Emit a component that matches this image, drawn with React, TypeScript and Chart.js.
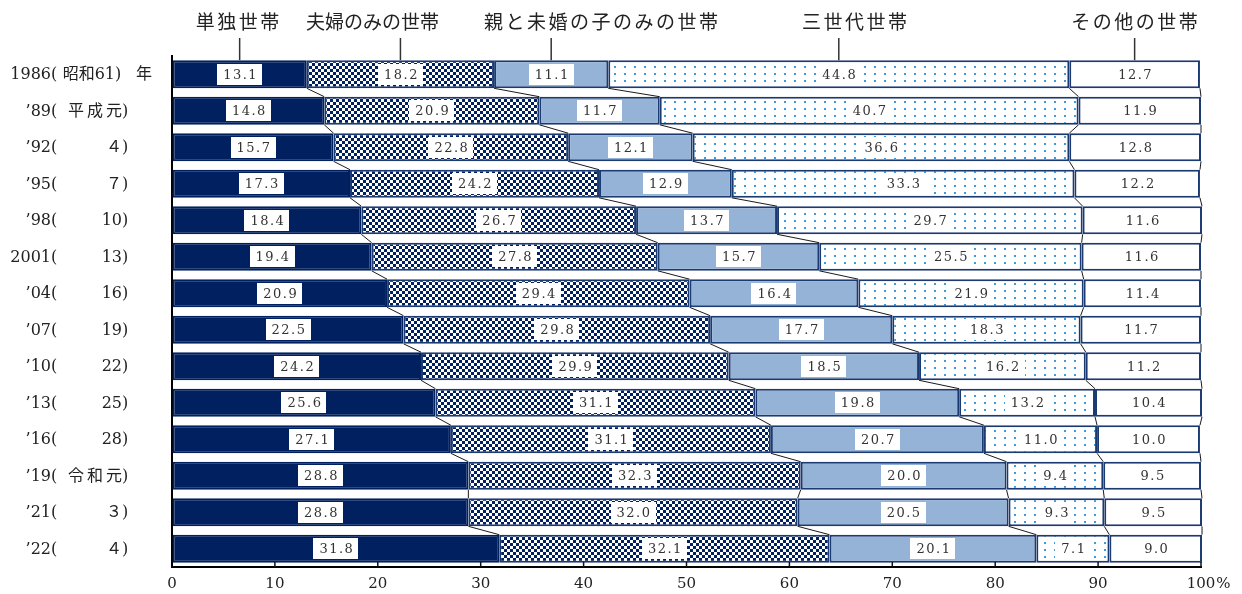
import React, { useEffect, useRef } from 'react';
import { Chart, registerables } from 'chart.js';

Chart.register(...registerables);

// ---- data ----
const yearLabels = ['1986', '’89', '’92', '’95', '’98', '2001', '’04', '’07', '’10', '’13', '’16', '’19', '’21', '’22'];
const eraLabels = ['昭和61', '平成元', '４', '７', '10', '13', '16', '19', '22', '25', '28', '令和元', '３', '４'];
const suffixLabels = ['年', '', '', '', '', '', '', '', '', '', '', '', '', ''];
const categories = yearLabels.map((y, i) => `${y}(${eraLabels[i]})${suffixLabels[i]}`);

const seriesNames = ['単独世帯', '夫婦のみの世帯', '親と未婚の子のみの世帯', '三世代世帯', 'その他の世帯'];
const singleHH = [13.1, 14.8, 15.7, 17.3, 18.4, 19.4, 20.9, 22.5, 24.2, 25.6, 27.1, 28.8, 28.8, 31.8];
const coupleOnly = [18.2, 20.9, 22.8, 24.2, 26.7, 27.8, 29.4, 29.8, 29.9, 31.1, 31.1, 32.3, 32.0, 32.1];
const parentChild = [11.1, 11.7, 12.1, 12.9, 13.7, 15.7, 16.4, 17.7, 18.5, 19.8, 20.7, 20.0, 20.5, 20.1];
const threeGen = [44.8, 40.7, 36.6, 33.3, 29.7, 25.5, 21.9, 18.3, 16.2, 13.2, 11.0, 9.4, 9.3, 7.1];
const otherHH = [12.7, 11.9, 12.8, 12.2, 11.6, 11.6, 11.4, 11.7, 11.2, 10.4, 10.0, 9.5, 9.5, 9.0];
const xTickValues = [0, 10, 20, 30, 40, 50, 60, 70, 80, 90, 100];
const xLastSuffix = '%';

// ---- styles ----
const NAVY = '#002060';
const BORDER = '#1c3a72';
const LIGHT_BLUE = '#95b3d7';
const DOT = '#3d9be0';
const SERIF = "'DejaVu Serif', 'Noto Sans CJK JP'";
const HEADER_TEXT_OFFSETS = [-2, -29, 50, 16, 0];
const HEADER_SPACING = ['2.5px', '0px', '2.5px', '2.5px', '2.5px'];

function makeChecker(): CanvasPattern | string {
  const c = document.createElement('canvas');
  c.width = 6; c.height = 6;
  const g = c.getContext('2d');
  if (!g) return NAVY;
  g.fillStyle = NAVY; g.fillRect(0, 0, 6, 6);
  g.fillStyle = '#ffffff';
  g.fillRect(0, 0, 3, 3);
  g.fillRect(3, 3, 3, 3);
  return g.createPattern(c, 'repeat') || NAVY;
}

function makeDots(): CanvasPattern | string {
  const c = document.createElement('canvas');
  c.width = 10; c.height = 7;
  const g = c.getContext('2d');
  if (!g) return '#fff';
  g.fillStyle = '#ffffff'; g.fillRect(0, 0, 10, 7);
  g.fillStyle = DOT;
  g.fillRect(4, 3, 2, 2);
  return g.createPattern(c, 'repeat') || '#fff';
}

const overlayPlugin = {
  id: 'overlay',
  afterDatasetsDraw(chart: any) {
    const ctx: CanvasRenderingContext2D = chart.ctx;
    const metas = chart.data.datasets.map((_: any, i: number) => chart.getDatasetMeta(i));
    ctx.save();
    // connector lines
    ctx.strokeStyle = '#1a1a1a';
    ctx.lineWidth = 1;
    metas.forEach((meta: any) => {
      for (let i = 0; i < meta.data.length - 1; i++) {
        const a = meta.data[i].getProps(['x', 'y', 'height'], true);
        const b = meta.data[i + 1].getProps(['x', 'y', 'height'], true);
        ctx.beginPath();
        ctx.moveTo(a.x, a.y + a.height / 2);
        ctx.lineTo(b.x, b.y - b.height / 2);
        ctx.stroke();
      }
    });
    // value labels
    ctx.font = `13px ${SERIF}`;
    (ctx as any).letterSpacing = '1.5px';
    ctx.textAlign = 'center';
    ctx.textBaseline = 'middle';
    metas.forEach((meta: any, d: number) => {
      const values = chart.data.datasets[d].data;
      meta.data.forEach((el: any, i: number) => {
        const p = el.getProps(['x', 'base', 'y', 'height'], true);
        const cx = (p.x + p.base) / 2;
        const txt = Number(values[i]).toFixed(1);
        const w = ctx.measureText(txt).width + 10;
        const h = 21;
        ctx.fillStyle = '#ffffff';
        ctx.fillRect(Math.round(cx - w / 2), Math.round(p.y - h / 2), Math.round(w), h);
        ctx.fillStyle = '#333333';
        ctx.fillText(txt, cx + 1, p.y + 1);
      });
    });
    (ctx as any).letterSpacing = '0px';
    // header labels with pointer lines
    ctx.font = `19px 'Noto Sans CJK JP'`;
    ctx.fillStyle = '#222222';
    metas.forEach((meta: any, d: number) => {
      const p = meta.data[0].getProps(['x', 'base', 'y', 'height'], true);
      const cx = (p.x + p.base) / 2;
      ctx.strokeStyle = '#333333';
      ctx.lineWidth = 1.5;
      ctx.beginPath();
      ctx.moveTo(cx, 38);
      ctx.lineTo(cx, p.y - p.height / 2);
      ctx.stroke();
      (ctx as any).letterSpacing = HEADER_SPACING[d];
      ctx.fillText(seriesNames[d], cx + HEADER_TEXT_OFFSETS[d] + 1, 22);
    });
    (ctx as any).letterSpacing = '0px';
    ctx.restore();
  },
  afterDraw(chart: any) {
    const ctx: CanvasRenderingContext2D = chart.ctx;
    const xs = chart.scales.x;
    const ys = chart.scales.y;
    const area = chart.chartArea;
    ctx.save();
    // inward tick marks
    ctx.strokeStyle = '#111111';
    ctx.lineWidth = 1.5;
    xTickValues.forEach((v) => {
      if (v === 0) return;
      const x = xs.getPixelForValue(v);
      ctx.beginPath();
      ctx.moveTo(x, area.bottom);
      ctx.lineTo(x, area.bottom - 5);
      ctx.stroke();
    });
    // x labels
    ctx.font = `15px ${SERIF}`;
    ctx.fillStyle = '#222222';
    ctx.textBaseline = 'middle';
    xTickValues.forEach((v, i) => {
      const x = xs.getPixelForValue(v);
      ctx.textAlign = 'center';
      const t = String(v);
      ctx.fillText(t, x, 584);
      if (i === xTickValues.length - 1) {
        ctx.textAlign = 'left';
        ctx.fillText(xLastSuffix, x + ctx.measureText(t).width / 2 + 1, 584);
      }
    });
    // y labels
    ctx.font = `16px ${SERIF}`;
    yearLabels.forEach((yr, i) => {
      const y = ys.getPixelForValue(i) + 1;
      ctx.textAlign = 'right';
      ctx.fillText(yr, 51, y);
      ctx.textAlign = 'left';
      ctx.fillText('(', 51, y);
      const innerRight = suffixLabels[i] ? 115 : 122;
      const inner = eraLabels[i];
      const wide = inner.length === 3;
      (ctx as any).letterSpacing = wide ? '3px' : '0px';
      ctx.textAlign = 'right';
      ctx.fillText(inner, innerRight + (wide ? 3 : 0), y);
      (ctx as any).letterSpacing = '0px';
      ctx.textAlign = 'left';
      ctx.fillText(')', innerRight, y);
      if (suffixLabels[i]) ctx.fillText(suffixLabels[i], 136, y);
    });
    ctx.restore();
  },
};

export default function App() {
  const ref = useRef<HTMLCanvasElement | null>(null);
  useEffect(() => {
    document.body.style.margin = '0';
    const canvas = ref.current;
    if (!canvas) return;
    const checker = makeChecker();
    const dots = makeDots();
    const fills: any[] = [NAVY, checker, LIGHT_BLUE, dots, '#ffffff'];
    const seriesData = [singleHH, coupleOnly, parentChild, threeGen, otherHH];
    const chart = new Chart(canvas, {
      type: 'bar',
      data: {
        labels: categories,
        datasets: seriesData.map((data, i) => ({
          label: seriesNames[i],
          data,
          backgroundColor: fills[i],
          borderColor: i === 0 ? NAVY : BORDER,
          borderWidth: 2,
          borderSkipped: false,
          barPercentage: 0.77,
          categoryPercentage: 1,
          clip: false as any,
        })),
      },
      options: {
        indexAxis: 'y',
        animation: false,
        responsive: false,
        maintainAspectRatio: false,
        layout: { padding: { left: 0, right: 41, top: 56, bottom: 0 } },
        plugins: {
          legend: { display: false },
          tooltip: { enabled: false },
        },
        scales: {
          x: {
            stacked: true,
            min: 0,
            max: 100,
            ticks: { display: false, stepSize: 10 },
            grid: { display: true, drawOnChartArea: false, drawTicks: false, color: 'rgba(0,0,0,0)' },
            border: { display: true, color: '#000000', width: 2 },
            afterFit: (s: any) => { s.height = 27; },
          },
          y: {
            stacked: true,
            ticks: { display: false },
            grid: { display: true, drawOnChartArea: false, drawTicks: false, color: 'rgba(0,0,0,0)' },
            border: { display: true, color: '#000000', width: 2 },
            afterFit: (s: any) => { s.width = 172; },
          },
        },
      } as any,
      plugins: [overlayPlugin],
    });
    return () => chart.destroy();
  }, []);
  return (
    <div style={{ width: 1242, height: 594 }}>
      <canvas ref={ref} width={1242} height={594} style={{ display: 'block' }} />
    </div>
  );
}
